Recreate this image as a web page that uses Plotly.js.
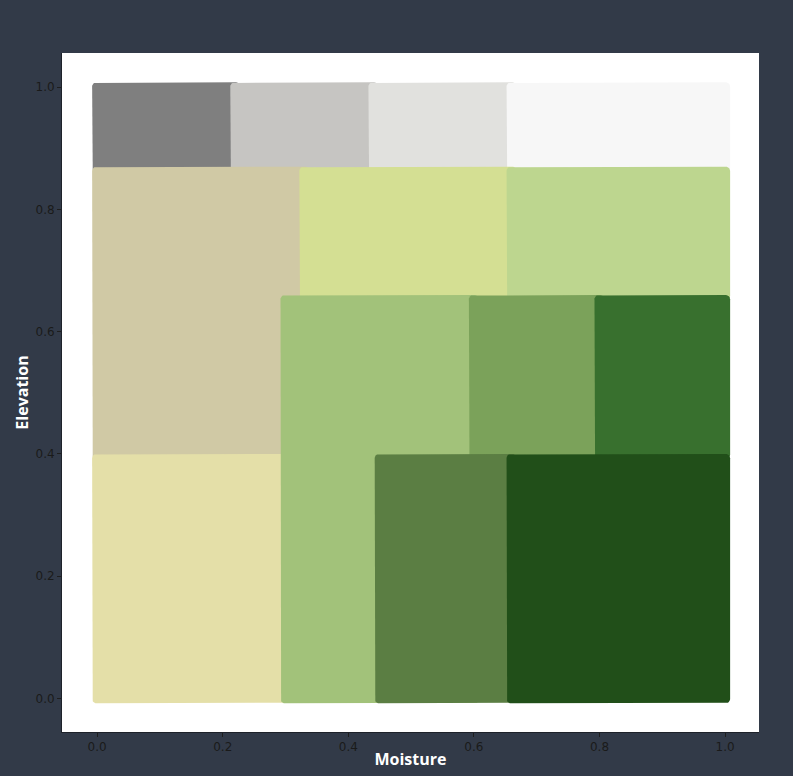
<!DOCTYPE html>
<html>
<head>
<meta charset="utf-8">
<script src="https://cdn.plot.ly/plotly-3.0.1.min.js"></script>
<style>
  html, body { margin: 0; padding: 0; background: #323a48; }
  #chart { width: 793px; height: 776px; }
</style>
</head>
<body>
<div id="chart"></div>
<script>
// ---- Data ----
const biomes = [
  "Scorched", "Bare", "Tundra", "Snow",
  "Temperate Desert", "Shrubland", "Taiga",
  "Subtropical Desert", "Grassland", "Temperate Deciduous Forest", "Temperate Rain Forest",
  "Tropical Seasonal Forest", "Tropical Rain Forest"
];
const moistureMin  = [0.00, 0.22, 0.44, 0.66, 0.00, 0.33, 0.66, 0.00, 0.30, 0.60, 0.80, 0.45, 0.66];
const moistureMax  = [0.22, 0.44, 0.66, 1.00, 0.33, 0.66, 1.00, 0.30, 0.60, 0.80, 1.00, 0.66, 1.00];
const elevationMin = [0.87, 0.87, 0.87, 0.87, 0.40, 0.66, 0.66, 0.00, 0.00, 0.40, 0.40, 0.00, 0.00];
const elevationMax = [1.00, 1.00, 1.00, 1.00, 0.87, 0.87, 0.87, 0.40, 0.66, 0.66, 0.66, 0.40, 0.40];
const biomeColors  = [
  "#7f7f7f", "#c6c5c2", "#e1e1de", "#f7f7f7",
  "#d0c9a5", "#d4df93", "#bdd68f",
  "#e4dfa8", "#a2c27a", "#7ba25a", "#38702e",
  "#5b7e43", "#214f19"
];
const xTicks = [0.0, 0.2, 0.4, 0.6, 0.8, 1.0];
const yTicks = [0.0, 0.2, 0.4, 0.6, 0.8, 1.0];

// ---- Rendering helpers ----
const pad = 0.008;   // box padding beyond nominal bounds
const rad = 0.007;   // corner radius (data units)

function roundedRect(x0, x1, y0, y1) {
  const xs = [], ys = [];
  const n = 6;
  const corners = [
    [x1 - rad, y1 - rad, 0],
    [x0 + rad, y1 - rad, Math.PI / 2],
    [x0 + rad, y0 + rad, Math.PI],
    [x1 - rad, y0 + rad, 3 * Math.PI / 2]
  ];
  corners.forEach(([cx, cy, a0]) => {
    for (let i = 0; i <= n; i++) {
      const a = a0 + (Math.PI / 2) * i / n;
      xs.push(cx + rad * Math.cos(a));
      ys.push(cy + rad * Math.sin(a));
    }
  });
  xs.push(xs[0]); ys.push(ys[0]);
  return { xs, ys };
}

const traces = biomes.map((name, i) => {
  const x0 = moistureMin[i] - pad;
  const x1 = moistureMax[i] + pad;
  const y0 = elevationMin[i] - pad;
  const y1 = elevationMax[i] + (elevationMax[i] >= 1 ? pad : 0);
  const r = roundedRect(x0, x1, y0, y1);
  return {
    type: "scatter",
    mode: "lines",
    x: r.xs,
    y: r.ys,
    fill: "toself",
    fillcolor: biomeColors[i],
    line: { width: 0, color: biomeColors[i] },
    name: name,
    hoverinfo: "name",
    showlegend: false
  };
});

const tickFont = { family: "DejaVu Sans, sans-serif", size: 12, color: "#1a1a1a" };

const layout = {
  width: 793,
  height: 776,
  paper_bgcolor: "#323a48",
  plot_bgcolor: "#ffffff",
  margin: { l: 62, r: 34, t: 53, b: 44, pad: 0 },
  showlegend: false,
  xaxis: {
    range: [-0.056, 1.054],
    tickvals: xTicks,
    ticktext: xTicks.map(v => v.toFixed(1)),
    ticks: "outside",
    ticklen: 4,
    tickcolor: "#1e1e1e",
    tickfont: tickFont,
    showgrid: false,
    zeroline: false,
    showline: true,
    linecolor: "#1e222a",
    linewidth: 1,
    mirror: false,
    title: { text: "Moisture", font: { family: "Open Sans, sans-serif", size: 16, color: "#ffffff", weight: "bold" }, standoff: 0 },
    automargin: false,
    fixedrange: true
  },
  yaxis: {
    range: [-0.055, 1.056],
    tickvals: yTicks,
    ticktext: yTicks.map(v => v.toFixed(1)),
    ticks: "outside",
    ticklen: 4,
    tickcolor: "#1e1e1e",
    tickfont: tickFont,
    showgrid: false,
    zeroline: false,
    showline: true,
    linecolor: "#1e222a",
    linewidth: 1,
    mirror: false,
    title: { text: "Elevation", font: { family: "Open Sans, sans-serif", size: 16, color: "#ffffff", weight: "bold" }, standoff: 2 },
    automargin: false,
    fixedrange: true
  }
};

Plotly.newPlot("chart", traces, layout, { displayModeBar: false, staticPlot: true });
</script>
</body>
</html>
